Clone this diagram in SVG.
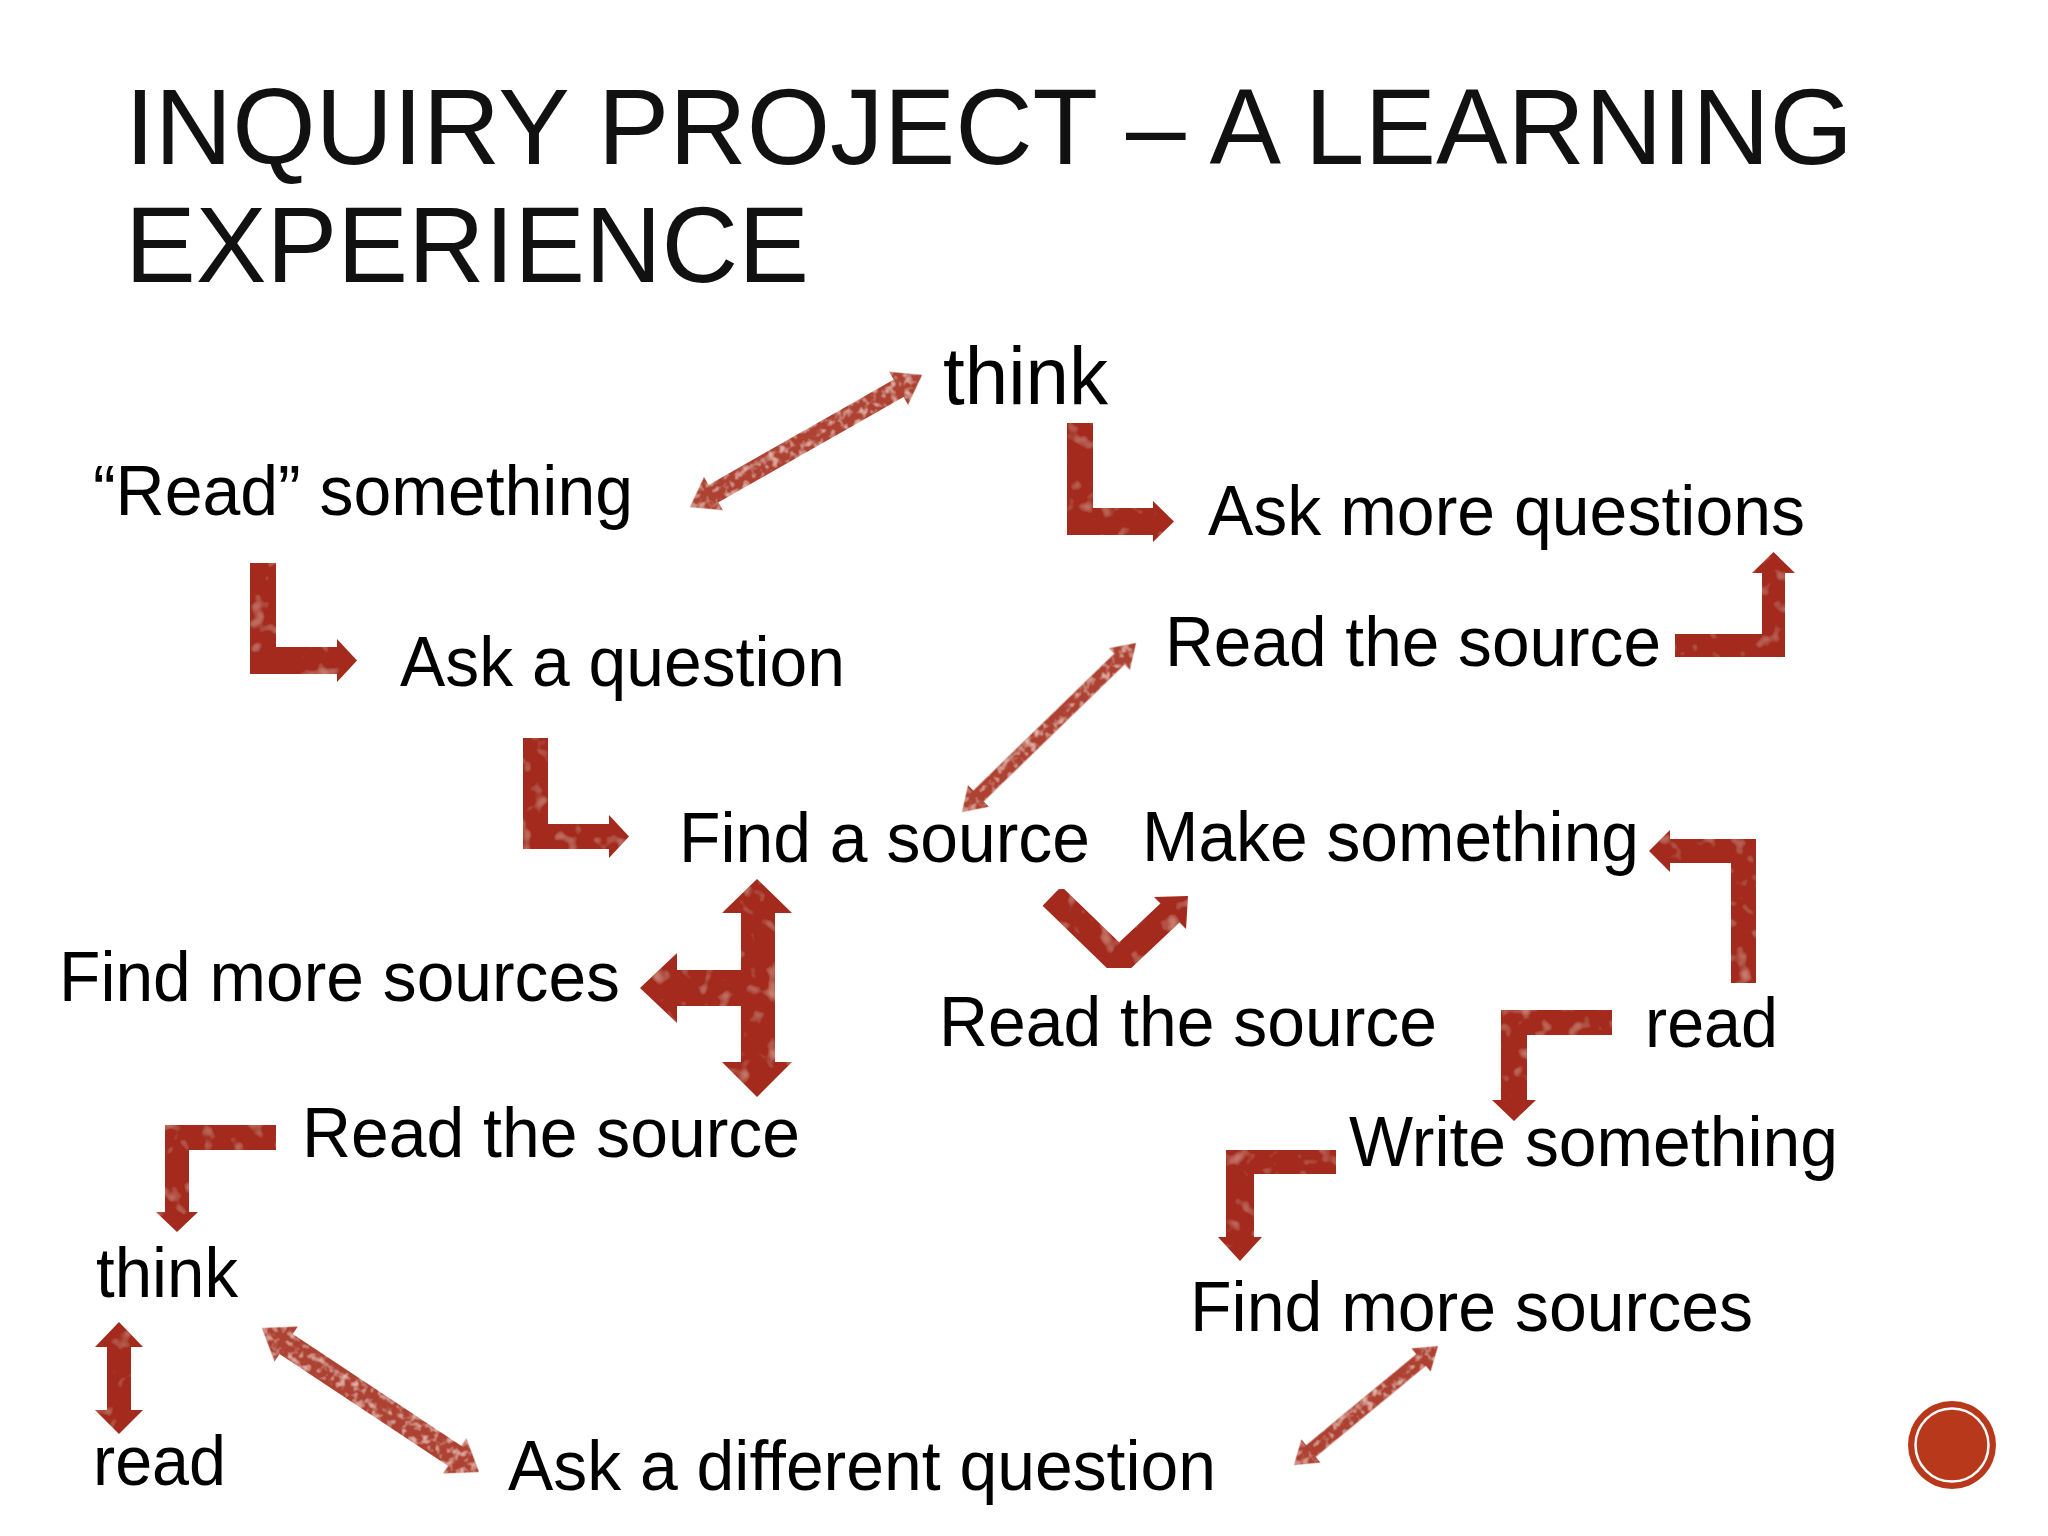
<svg xmlns="http://www.w3.org/2000/svg" width="2048" height="1536" viewBox="0 0 2048 1536">
<defs>
<style>
.title{font-family:"Liberation Sans",Arial,sans-serif;font-size:108px;fill:#111;}
.t{font-family:"Liberation Sans",Arial,sans-serif;font-size:70px;fill:#000;}
.big{font-size:82px;}
.thick{fill:#A3291A;filter:url(#grain);}
.thin{fill:#AE4230;filter:url(#grain2);}
.vline{fill:none;stroke:#A3291A;stroke-width:27;stroke-linejoin:miter;filter:url(#grain);}
</style>
<filter id="grain" x="-10%" y="-10%" width="120%" height="120%">
<feTurbulence type="fractalNoise" baseFrequency="0.06" numOctaves="2" seed="3" result="n"/>
<feColorMatrix in="n" type="matrix" values="0 0 0 0 0.78  0 0 0 0 0.36  0 0 0 0 0.28  0 0 0 1.8 -1.05" result="spots"/>
<feComposite in="spots" in2="SourceGraphic" operator="in" result="sp"/>
<feMerge><feMergeNode in="SourceGraphic"/><feMergeNode in="sp"/></feMerge>
</filter>
<filter id="grain2" x="-10%" y="-10%" width="120%" height="120%">
<feTurbulence type="fractalNoise" baseFrequency="0.14" numOctaves="2" seed="7" result="n"/>
<feColorMatrix in="n" type="matrix" values="0 0 0 0 0.86  0 0 0 0 0.52  0 0 0 0 0.44  0 0 0 2.4 -1.15" result="spots"/>
<feComposite in="spots" in2="SourceGraphic" operator="in" result="sp"/>
<feMerge><feMergeNode in="SourceGraphic"/><feMergeNode in="sp"/></feMerge>
</filter>
</defs>
<rect width="2048" height="1536" fill="#fff"/>

<g id="title">
<text class="title" x="125" y="164" textLength="1728" lengthAdjust="spacingAndGlyphs">INQUIRY PROJECT – A LEARNING</text>
<text class="title" x="125" y="282" textLength="684" lengthAdjust="spacingAndGlyphs">EXPERIENCE</text>
</g>

<g id="connectors">
<!-- think <-> "Read" something -->
<path class="thin" transform="translate(690,507) rotate(-29.64)" d="M0,0 L27,-19 L27,-10 L240,-10 L240,-19 L267,0 L240,19 L240,10 L27,10 L27,19 Z"/>
<!-- think -> Ask more questions -->
<path class="thick" d="M1067,423 H1093 V508 H1153 V501 L1174,521.5 L1153,542 V535 H1067 Z"/>
<!-- "Read" something -> Ask a question -->
<path class="thick" d="M250,563 H276 V647 H337 V639 L357,660.5 L337,682 V674 H250 Z"/>
<!-- Ask a question -> Find a source -->
<path class="thick" d="M523,738 H548 V824 H609 V815 L629,836.5 L609,858 V849 H523 Z"/>
<!-- Find a source <-> Read the source (upper right) -->
<path class="thin" transform="translate(962,812) rotate(-44.17)" d="M0,0 L23,-15 L23,-7.5 L219.6,-7.5 L219.6,-15 L242.6,0 L219.6,15 L219.6,7.5 L23,7.5 L23,15 Z"/>
<!-- Read the source -> Ask more questions -->
<path class="thick" d="M1675,634 H1762 V573 H1752 L1773.5,552 L1795,573 H1785 V657 H1675 Z"/>
<!-- Find a source: up/down/left -->
<path class="thick" d="M757,879 L792,913 H775 V1062 H792 L757,1097 L722,1062 H741 V1006 H677 V1023 L640,988 L677,953 V970 H741 V913 H722 Z"/>
<!-- V arrow to Make something -->
<polyline class="vline" points="1052,896 1119,961 1171,912"/>
<path class="thick" d="M1154,897 L1188,896 L1186,929 Z"/>
<!-- read -> Make something -->
<path class="thick" d="M1756,983 H1731 V863 H1670 V872 L1649,851 L1670,830 V839 H1756 Z"/>
<!-- read -> Write something -->
<path class="thick" d="M1501,1010 H1612 V1035 H1527 V1100 H1536 L1514,1121 L1492,1100 H1501 Z"/>
<!-- Write something -> Find more sources -->
<path class="thick" d="M1226,1150 H1336 V1174 H1254 V1237 H1262 L1240,1261 L1218,1237 H1226 Z"/>
<!-- Read the source -> think -->
<path class="thick" d="M165,1125 H276 V1150 H189 V1212 H198 L177,1232 L156,1212 H165 Z"/>
<!-- think <-> read -->
<path class="thick" d="M119,1322 L143,1347 H131 V1410 H143 L119,1434 L95,1410 H107 V1347 H95 Z"/>
<!-- think <-> Ask a different question -->
<path class="thin" transform="translate(262,1328) rotate(33.57)" d="M0,0 L29,-21 L29,-12 L231.4,-12 L231.4,-21 L260.4,0 L231.4,21 L231.4,12 L29,12 L29,21 Z"/>
<!-- Find more sources <-> Ask a different question -->
<path class="thin" transform="translate(1294,1465) rotate(-39.57)" d="M0,0 L22,-15 L22,-7.5 L164.8,-7.5 L164.8,-15 L186.8,0 L164.8,15 L164.8,7.5 L22,7.5 L22,15 Z"/>
</g>

<g id="node-think-top"><text class="t big" x="943" y="404" textLength="165" lengthAdjust="spacingAndGlyphs">think</text></g>
<g id="node-read-something"><text class="t" x="93" y="515" textLength="540" lengthAdjust="spacingAndGlyphs">“Read” something</text></g>
<g id="node-ask-more-questions"><text class="t" x="1208" y="535" textLength="597" lengthAdjust="spacingAndGlyphs">Ask more questions</text></g>
<g id="node-read-source-1"><text class="t" x="1165" y="666" textLength="496" lengthAdjust="spacingAndGlyphs">Read the source</text></g>
<g id="node-ask-question"><text class="t" x="400" y="686" textLength="445" lengthAdjust="spacingAndGlyphs">Ask a question</text></g>
<g id="node-find-source"><text class="t" x="679" y="862" textLength="411" lengthAdjust="spacingAndGlyphs">Find a source</text></g>
<g id="node-make-something"><text class="t" x="1142" y="861" textLength="497" lengthAdjust="spacingAndGlyphs">Make something</text></g>
<g id="node-find-more-1"><text class="t" x="59" y="1001" textLength="561" lengthAdjust="spacingAndGlyphs">Find more sources</text></g>
<g id="node-read-source-2"><text class="t" x="939" y="1046" textLength="498" lengthAdjust="spacingAndGlyphs">Read the source</text></g>
<g id="node-read-1"><text class="t" x="1645" y="1047" textLength="133" lengthAdjust="spacingAndGlyphs">read</text></g>
<g id="node-read-source-3"><text class="t" x="302" y="1157" textLength="498" lengthAdjust="spacingAndGlyphs">Read the source</text></g>
<g id="node-write-something"><text class="t" x="1349" y="1166" textLength="489" lengthAdjust="spacingAndGlyphs">Write something</text></g>
<g id="node-think-left"><text class="t" x="96" y="1297" textLength="142" lengthAdjust="spacingAndGlyphs">think</text></g>
<g id="node-find-more-2"><text class="t" x="1190" y="1331" textLength="563" lengthAdjust="spacingAndGlyphs">Find more sources</text></g>
<g id="node-read-2"><text class="t" x="93" y="1485" textLength="133" lengthAdjust="spacingAndGlyphs">read</text></g>
<g id="node-ask-different"><text class="t" x="508" y="1490" textLength="708" lengthAdjust="spacingAndGlyphs">Ask a different question</text></g>

<g id="badge">
<circle cx="1952" cy="1445" r="44" fill="#B8381C"/>
<circle cx="1952" cy="1445" r="36.5" fill="none" stroke="#fff" stroke-width="2.5"/>
</g>
</svg>
